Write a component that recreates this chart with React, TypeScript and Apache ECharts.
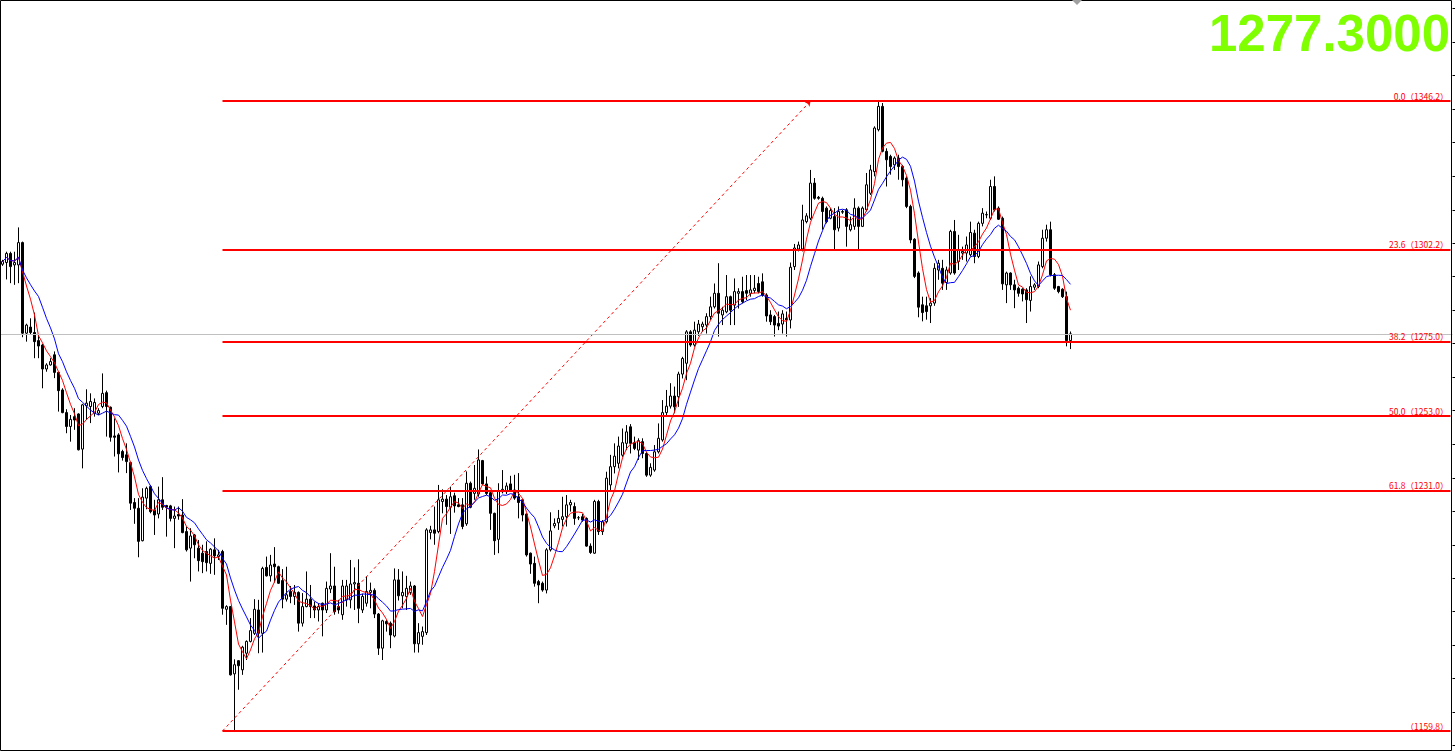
import React, { useEffect, useRef } from 'react';
import * as echarts from 'echarts';

// ---- OHLC data (one entry per bar) ----
const opens = [
  1297.9, 1298.4, 1301.1, 1297.7, 1297.7, 1304.3, 1277.5, 1279.3, 1277.7, 1275.3,
  1274.0, 1266.9, 1268.1, 1271.1, 1265.9, 1260.7, 1254.0, 1249.9, 1252.8, 1253.6,
  1243.2, 1256.0, 1255.8, 1253.8, 1253.8, 1255.8, 1259.9, 1255.6, 1247.1, 1247.4,
  1242.5, 1241.5, 1239.2, 1227.4, 1225.7, 1216.1, 1228.7, 1232.1, 1225.2, 1224.0,
  1228.2, 1226.5, 1226.4, 1222.7, 1223.9, 1223.7, 1218.8, 1213.9, 1217.8, 1213.9,
  1212.4, 1212.9, 1209.4, 1213.4, 1211.4, 1212.9, 1195.8, 1196.6, 1176.7, 1180.6,
  1177.9, 1182.8, 1186.3, 1188.7, 1195.6, 1188.7, 1208.2, 1205.7, 1209.2, 1208.4,
  1204.3, 1198.8, 1201.1, 1199.6, 1200.8, 1191.7, 1196.6, 1198.8, 1196.8, 1195.6,
  1197.6, 1195.6, 1201.8, 1202.7, 1196.6, 1194.2, 1198.6, 1198.6, 1203.3, 1203.5,
  1195.6, 1197.6, 1200.8, 1201.4, 1194.4, 1184.3, 1192.2, 1191.7, 1187.9, 1204.5,
  1199.8, 1199.6, 1200.8, 1202.7, 1185.6, 1187.8, 1188.9, 1218.5, 1219.3, 1218.8,
  1227.7, 1228.4, 1226.0, 1229.4, 1226.7, 1226.7, 1221.1, 1233.1, 1230.1, 1229.9,
  1239.8, 1232.9, 1230.3, 1224.2, 1216.5, 1230.6, 1230.6, 1232.9, 1231.1, 1229.1,
  1228.2, 1224.0, 1212.4, 1209.4, 1204.0, 1203.5, 1201.5, 1213.4, 1220.5, 1221.4,
  1222.4, 1223.2, 1226.7, 1226.2, 1222.9, 1223.2, 1222.7, 1214.5, 1212.4, 1227.7,
  1218.8, 1221.7, 1232.6, 1238.0, 1239.0, 1241.4, 1244.9, 1249.8, 1245.1, 1242.9,
  1245.4, 1241.9, 1235.5, 1237.0, 1242.4, 1245.9, 1254.0, 1255.9, 1258.9, 1258.7,
  1265.4, 1268.6, 1277.9, 1274.0, 1277.9, 1279.4, 1279.9, 1282.4, 1285.3, 1289.3,
  1282.9, 1283.8, 1288.3, 1285.8, 1289.3, 1289.8, 1290.1, 1289.3, 1290.1, 1292.2,
  1292.7, 1288.8, 1282.9, 1282.4, 1280.4, 1280.2, 1281.9, 1281.4, 1297.2, 1302.4,
  1302.4, 1310.5, 1311.5, 1321.9, 1317.7, 1317.4, 1314.5, 1311.5, 1312.0, 1308.6,
  1313.3, 1314.0, 1308.1, 1309.1, 1314.5, 1309.1, 1314.0, 1318.9, 1325.3, 1337.7,
  1344.6, 1331.3, 1329.8, 1327.3, 1329.3, 1326.8, 1323.4, 1315.0, 1305.3, 1295.3,
  1285.9, 1285.6, 1285.6, 1286.4, 1296.2, 1296.7, 1292.5, 1295.3, 1307.6, 1298.7,
  1301.2, 1301.2, 1300.7, 1307.1, 1300.2, 1310.0, 1312.5, 1311.5, 1320.9, 1314.5,
  1311.5, 1291.8, 1295.3, 1291.8, 1290.8, 1290.5, 1290.3, 1287.2, 1291.1, 1291.3,
  1297.2, 1305.6, 1308.1, 1294.8, 1291.3, 1290.5, 1288.3, 1275.3,
];
const closes = [
  1298.7, 1301.1, 1297.2, 1298.4, 1304.3, 1277.5, 1279.9, 1277.7, 1275.0, 1273.7,
  1266.9, 1268.1, 1269.1, 1265.9, 1260.5, 1254.0, 1249.9, 1252.0, 1251.8, 1243.0,
  1256.3, 1256.8, 1257.3, 1257.0, 1254.6, 1259.7, 1255.8, 1246.7, 1246.7, 1241.8,
  1240.7, 1239.5, 1227.2, 1225.7, 1215.9, 1229.0, 1231.6, 1224.7, 1223.7, 1228.2,
  1226.0, 1226.0, 1222.7, 1223.4, 1223.4, 1218.5, 1213.4, 1217.5, 1214.9, 1210.2,
  1209.9, 1209.6, 1213.6, 1211.6, 1211.9, 1196.1, 1196.6, 1176.4, 1179.4, 1179.1,
  1184.6, 1186.3, 1189.5, 1195.8, 1188.7, 1207.9, 1205.7, 1208.9, 1208.4, 1203.5,
  1198.8, 1200.1, 1199.6, 1200.8, 1191.7, 1196.6, 1198.8, 1196.6, 1195.6, 1196.6,
  1195.6, 1202.0, 1202.7, 1195.1, 1195.6, 1202.7, 1202.7, 1203.3, 1203.7, 1196.1,
  1199.6, 1201.1, 1201.4, 1194.4, 1184.3, 1192.4, 1191.5, 1188.2, 1204.5, 1199.8,
  1200.8, 1202.0, 1202.7, 1185.6, 1188.9, 1189.2, 1219.3, 1219.3, 1218.3, 1228.2,
  1228.4, 1226.2, 1229.1, 1226.4, 1226.2, 1220.3, 1233.1, 1226.0, 1231.6, 1240.0,
  1232.9, 1230.1, 1224.2, 1216.1, 1230.9, 1231.3, 1232.3, 1230.9, 1228.7, 1227.4,
  1223.7, 1211.9, 1209.2, 1203.5, 1203.0, 1201.5, 1213.4, 1219.0, 1221.2, 1222.7,
  1223.2, 1226.7, 1227.4, 1222.7, 1222.9, 1222.2, 1214.5, 1212.6, 1227.7, 1218.8,
  1221.7, 1234.6, 1238.0, 1241.1, 1244.1, 1245.1, 1248.3, 1244.9, 1243.4, 1245.7,
  1241.9, 1235.5, 1237.8, 1242.4, 1246.4, 1254.0, 1255.9, 1258.9, 1255.7, 1265.4,
  1270.0, 1277.9, 1274.0, 1278.4, 1280.2, 1280.2, 1282.4, 1285.3, 1289.3, 1283.4,
  1284.3, 1288.3, 1284.3, 1289.8, 1289.8, 1286.8, 1289.3, 1290.3, 1290.8, 1289.8,
  1288.8, 1282.6, 1280.9, 1279.9, 1279.6, 1283.2, 1281.4, 1297.0, 1302.7, 1303.6,
  1311.0, 1312.2, 1321.9, 1317.4, 1317.4, 1313.5, 1310.5, 1313.8, 1308.1, 1313.5,
  1313.5, 1309.1, 1309.6, 1314.5, 1309.1, 1314.5, 1321.4, 1325.8, 1338.2, 1344.6,
  1331.3, 1328.8, 1326.8, 1329.3, 1326.8, 1322.9, 1315.0, 1305.1, 1294.3, 1285.2,
  1283.6, 1283.9, 1286.4, 1296.7, 1298.2, 1292.3, 1296.2, 1307.6, 1295.3, 1302.2,
  1301.7, 1303.6, 1307.3, 1300.2, 1310.0, 1313.0, 1312.6, 1320.9, 1314.0, 1311.2,
  1292.1, 1295.3, 1291.8, 1290.3, 1289.3, 1289.1, 1287.4, 1291.3, 1291.8, 1297.7,
  1305.6, 1308.1, 1294.8, 1290.8, 1289.8, 1288.3, 1275.3, 1277.3,
];
const lows = [
  1297.4, 1293.4, 1292.3, 1291.8, 1292.3, 1276.3, 1275.0, 1277.2, 1270.1, 1270.1,
  1261.2, 1266.1, 1267.9, 1264.2, 1254.3, 1253.8, 1247.9, 1245.4, 1248.9, 1242.8,
  1237.5, 1251.8, 1250.9, 1252.8, 1253.3, 1255.3, 1246.9, 1245.4, 1241.0, 1236.3,
  1239.8, 1236.1, 1225.2, 1221.1, 1211.2, 1215.9, 1225.4, 1224.2, 1217.8, 1222.7,
  1225.2, 1217.3, 1221.8, 1213.9, 1222.3, 1218.3, 1212.9, 1204.0, 1210.9, 1207.0,
  1206.5, 1207.0, 1206.3, 1206.0, 1210.4, 1194.2, 1191.2, 1176.2, 1159.8, 1172.0,
  1176.4, 1180.8, 1186.0, 1188.2, 1182.8, 1183.0, 1205.5, 1204.0, 1203.7, 1203.3,
  1196.1, 1198.1, 1197.6, 1197.1, 1189.2, 1190.7, 1196.4, 1193.2, 1193.2, 1192.2,
  1187.8, 1194.7, 1200.6, 1194.2, 1194.5, 1192.7, 1196.6, 1196.1, 1195.6, 1191.7,
  1194.7, 1196.6, 1196.1, 1193.2, 1182.3, 1180.8, 1189.2, 1184.3, 1187.5, 1198.4,
  1196.1, 1195.6, 1200.1, 1183.0, 1183.0, 1185.3, 1188.2, 1216.5, 1214.9, 1218.3,
  1224.2, 1220.8, 1218.1, 1224.4, 1226.0, 1219.5, 1220.5, 1225.7, 1228.2, 1229.1,
  1232.5, 1229.6, 1219.3, 1211.9, 1212.4, 1230.1, 1229.9, 1230.6, 1228.2, 1222.7,
  1221.8, 1211.4, 1206.3, 1202.5, 1197.6, 1201.0, 1200.5, 1212.9, 1219.8, 1219.3,
  1220.3, 1220.3, 1224.7, 1220.8, 1222.2, 1221.7, 1214.3, 1212.2, 1212.2, 1217.8,
  1217.8, 1221.2, 1231.1, 1236.0, 1237.5, 1240.9, 1242.9, 1241.9, 1242.9, 1240.0,
  1240.5, 1235.0, 1235.0, 1236.5, 1241.9, 1245.4, 1252.8, 1255.2, 1253.8, 1255.7,
  1264.1, 1263.6, 1273.5, 1273.5, 1276.7, 1277.9, 1277.4, 1281.4, 1284.8, 1276.5,
  1279.9, 1283.4, 1279.9, 1279.9, 1284.8, 1286.3, 1287.3, 1288.3, 1289.3, 1289.3,
  1288.3, 1280.9, 1279.9, 1276.5, 1278.4, 1277.4, 1276.5, 1278.9, 1296.2, 1301.7,
  1301.7, 1310.0, 1311.0, 1317.0, 1317.0, 1308.1, 1310.0, 1311.2, 1302.2, 1307.6,
  1312.8, 1303.1, 1307.6, 1308.1, 1302.2, 1308.9, 1313.5, 1318.4, 1323.9, 1337.2,
  1331.0, 1320.9, 1324.4, 1325.8, 1322.9, 1320.9, 1314.5, 1304.1, 1293.8, 1282.2,
  1281.0, 1281.5, 1280.5, 1285.6, 1293.3, 1290.3, 1290.3, 1294.8, 1294.8, 1296.2,
  1299.2, 1298.7, 1300.2, 1298.2, 1299.7, 1309.1, 1311.5, 1311.0, 1313.5, 1311.0,
  1290.3, 1286.4, 1290.3, 1284.9, 1288.3, 1286.9, 1280.5, 1283.9, 1290.3, 1290.8,
  1296.7, 1304.6, 1294.3, 1290.3, 1289.3, 1287.9, 1273.6, 1272.8,
];
const highs = [
  1299.2, 1301.6, 1301.6, 1301.6, 1308.8, 1304.6, 1280.3, 1281.9, 1283.6, 1277.0,
  1274.3, 1268.6, 1270.1, 1272.1, 1266.1, 1261.2, 1255.0, 1253.3, 1255.3, 1253.8,
  1256.6, 1260.9, 1259.7, 1258.2, 1255.3, 1265.6, 1260.5, 1255.8, 1252.3, 1247.9,
  1243.0, 1244.9, 1239.5, 1228.7, 1228.7, 1231.6, 1232.1, 1232.6, 1228.2, 1232.1,
  1234.9, 1226.7, 1226.7, 1226.2, 1226.2, 1228.4, 1220.3, 1219.8, 1218.1, 1216.3,
  1214.9, 1215.9, 1213.9, 1216.8, 1213.4, 1213.4, 1197.0, 1196.8, 1181.0, 1180.8,
  1185.0, 1186.6, 1193.2, 1198.8, 1198.6, 1208.4, 1211.4, 1211.9, 1214.2, 1208.7,
  1207.7, 1208.4, 1202.7, 1203.0, 1201.1, 1200.6, 1207.0, 1203.0, 1198.1, 1197.6,
  1197.8, 1204.0, 1212.4, 1208.4, 1198.6, 1204.5, 1204.5, 1210.4, 1208.2, 1210.6,
  1200.4, 1205.5, 1203.7, 1202.0, 1194.7, 1192.7, 1192.7, 1192.2, 1207.9, 1207.7,
  1207.0, 1205.7, 1204.0, 1203.0, 1191.7, 1190.7, 1219.8, 1220.5, 1226.2, 1232.6,
  1231.3, 1229.6, 1232.1, 1230.3, 1228.7, 1228.7, 1236.6, 1233.6, 1238.5, 1243.1,
  1240.0, 1235.1, 1230.6, 1224.4, 1233.1, 1237.0, 1233.3, 1235.3, 1235.6, 1236.1,
  1228.5, 1224.2, 1212.6, 1211.4, 1204.5, 1204.0, 1213.9, 1224.5, 1222.7, 1225.2,
  1229.1, 1229.6, 1228.2, 1227.4, 1223.4, 1224.0, 1223.0, 1215.3, 1228.2, 1228.2,
  1222.2, 1236.5, 1241.5, 1244.9, 1246.9, 1249.3, 1250.3, 1250.6, 1246.9, 1246.4,
  1246.4, 1242.4, 1239.0, 1244.4, 1250.8, 1257.7, 1260.7, 1262.7, 1261.7, 1266.1,
  1270.5, 1278.4, 1278.4, 1280.9, 1281.4, 1280.9, 1283.4, 1288.3, 1292.2, 1298.2,
  1285.3, 1294.7, 1288.6, 1293.7, 1290.8, 1294.2, 1294.7, 1294.7, 1294.7, 1294.2,
  1295.2, 1289.3, 1284.3, 1282.9, 1283.9, 1284.3, 1283.9, 1298.4, 1303.9, 1304.6,
  1315.5, 1313.0, 1325.8, 1323.4, 1318.1, 1317.9, 1315.0, 1314.5, 1314.5, 1315.0,
  1314.0, 1314.5, 1312.0, 1317.4, 1315.0, 1315.0, 1324.9, 1327.3, 1338.7, 1346.2,
  1345.6, 1332.2, 1330.3, 1329.8, 1330.3, 1327.3, 1323.9, 1315.5, 1305.6, 1295.8,
  1288.3, 1288.3, 1287.9, 1298.2, 1299.2, 1299.2, 1297.2, 1308.1, 1311.0, 1306.6,
  1303.1, 1306.1, 1310.5, 1308.1, 1310.5, 1314.5, 1313.5, 1322.9, 1323.9, 1315.0,
  1312.0, 1295.7, 1295.5, 1293.3, 1291.3, 1290.8, 1290.8, 1294.3, 1292.3, 1298.7,
  1308.1, 1309.6, 1310.5, 1295.3, 1291.5, 1290.8, 1289.8, 1278.0,
];

// ---- Fibonacci retracement object ----
const fibPrices = [1346.2, 1302.2, 1275.0, 1253.0, 1231.0, 1159.8];
const fibLabels = ['0.0（1346.2）', '23.6（1302.2）', '38.2（1275.0）', '50.0（1253.0）', '61.8（1231.0）', '（1159.8）'];
const fibStartBar = 55;
const fibEndBar = 202;

// ---- misc ----
const bidPrice = 1277.3;
const bidText = '1277.3000';
const priceTicks = [
  1155.5, 1165.4, 1175.3, 1185.2, 1195.1, 1205.0, 1214.9, 1224.8, 1234.7, 1244.7,
  1254.6, 1264.5, 1274.4, 1284.3, 1294.2, 1304.1, 1314.0, 1324.0, 1333.9, 1343.8,
  1353.7, 1363.6, 1373.5,
];
const totalSlots = 363;
const fastPeriod = 5;
const slowPeriod = 10;

function movingAverage(n: number): number[] {
  return closes.map((_, i) => {
    const s = Math.max(0, i - n + 1);
    let sum = 0;
    for (let k = s; k <= i; k++) sum += closes[k];
    return +(sum / (i - s + 1)).toFixed(2);
  });
}

export default function App() {
  const ref = useRef<HTMLDivElement>(null);

  useEffect(() => {
    document.body.style.margin = '0';
    if (!ref.current) return;
    const chart = echarts.init(ref.current, undefined, { renderer: 'svg' });

    const categories = Array.from({ length: totalSlots }, (_, i) => String(i));
    const candleData = opens.map((o, i) => [o, closes[i], lows[i], highs[i]]);

    const fibLines: any[] = fibPrices.map((p, k) => [
      {
        coord: [fibStartBar, p],
        lineStyle: { color: '#ff0000', width: 2, type: 'solid' },
        label: {
          show: true,
          position: 'insideEndTop',
          formatter: fibLabels[k],
          color: '#ff0000',
          fontSize: 8.5,
          fontFamily: '"Noto Sans CJK SC", sans-serif',
          distance: [2, 1],
        },
      },
      { coord: [totalSlots - 1, p] },
    ]);
    fibLines.push([
      {
        coord: [fibStartBar, fibPrices[5]],
        lineStyle: { color: '#ff0000', width: 1, type: [3, 3] },
        label: { show: false },
        symbol: 'none',
      },
      { coord: [fibEndBar, fibPrices[0]], symbol: 'arrow', symbolSize: 5 },
    ]);
    fibLines.push({
      yAxis: bidPrice,
      lineStyle: { color: '#c0c0c0', width: 1, type: 'solid' },
      label: { show: false },
    });

    const option: any = {
      animation: false,
      backgroundColor: '#ffffff',
      grid: { left: 0.5, top: 0, width: 1452, height: 752, containLabel: false },
      xAxis: {
        type: 'category',
        data: categories,
        boundaryGap: true,
        axisLine: { show: false },
        axisTick: { show: false },
        axisLabel: { show: false },
        splitLine: { show: false },
      },
      yAxis: {
        type: 'value',
        min: 1153.58,
        max: 1376.08,
        position: 'right',
        axisLine: { show: false },
        axisLabel: { show: false },
        splitLine: { show: false },
        axisTick: {
          show: true,
          inside: false,
          length: 4,
          lineStyle: { color: '#000', width: 1 },
          customValues: priceTicks,
        },
      },
      series: [
        {
          type: 'candlestick',
          data: candleData,
          barWidth: 2,
          z: 2,
          itemStyle: {
            color: '#ffffff',
            color0: '#000000',
            borderColor: '#000000',
            borderColor0: '#000000',
            borderColorDoji: '#000000',
            borderWidth: 1,
          },
        },
        {
          type: 'line',
          data: movingAverage(fastPeriod),
          symbol: 'none',
          showSymbol: false,
          z: 3,
          lineStyle: { color: '#ff0000', width: 1 },
          itemStyle: { color: '#ff0000' },
          markLine: {
            silent: true,
            symbol: 'none',
            animation: false,
            data: fibLines,
          },
        },
        {
          type: 'line',
          data: movingAverage(slowPeriod),
          symbol: 'none',
          showSymbol: false,
          z: 3,
          lineStyle: { color: '#0000ff', width: 1 },
          itemStyle: { color: '#0000ff' },
        },
      ],
      graphic: [
        {
          type: 'rect',
          shape: { x: 0.5, y: 0.5, width: 1451, height: 750 },
          style: { fill: 'none', stroke: '#000000', lineWidth: 1 },
          silent: true,
          z: 10,
        },
        {
          type: 'polygon',
          shape: { points: [[1072, 0], [1082, 0], [1077, 5]] },
          style: { fill: '#a0a0a0' },
          silent: true,
          z: 11,
        },
        {
          type: 'text',
          right: 5,
          top: 8,
          style: {
            text: bidText,
            font: 'bold 51px "Liberation Sans", Arial, sans-serif',
            fill: '#7fff00',
          },
          silent: true,
          z: 12,
        },
      ],
    };

    chart.setOption(option);
    return () => chart.dispose();
  }, []);

  return <div ref={ref} style={{ width: 1455, height: 752 }} />;
}
